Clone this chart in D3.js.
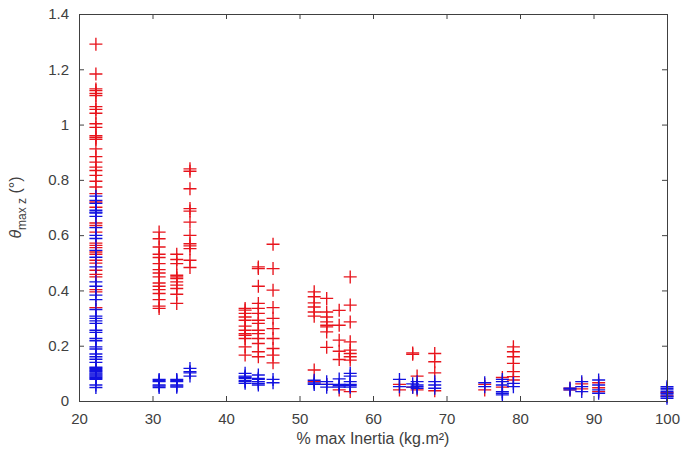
<!DOCTYPE html>
<html lang="en">
<head>
<meta charset="UTF-8">
<title>theta max z vs % max inertia</title>
<script src="https://d3js.org/d3.v7.min.js"></script>
<style>
    body { margin: 0; background: #fff; }
    svg text { font-family: "Liberation Sans", Arial, sans-serif; fill: #404040; }
</style>
</head>
<body>
<script>
// x position (% max inertia) of each group of trials
const inertia = [22.3, 30.9, 33.3, 35.1, 42.6, 44.4, 46.4, 52.0, 53.7, 55.4, 56.9,
                 63.6, 65.4, 66.0, 68.4, 75.2, 77.6, 79.1, 86.8, 88.4, 90.7, 100];

// red series, one list per group
const redTheta = [
    [1.291, 1.183, 1.129, 1.123, 1.113, 1.105, 1.065, 1.055, 1.041, 1.003, 0.99, 0.96, 0.954, 0.947,
     0.912, 0.884, 0.864, 0.846, 0.834, 0.816, 0.795, 0.774, 0.75, 0.72, 0.701, 0.644, 0.635, 0.611,
     0.571, 0.563, 0.555, 0.539, 0.531, 0.509, 0.499, 0.473, 0.458, 0.449, 0.403, 0.395, 0.338],
    [0.611, 0.587, 0.557, 0.531, 0.519, 0.497, 0.475, 0.463, 0.449, 0.427, 0.415, 0.403, 0.389, 0.367, 0.343, 0.335],
    [0.531, 0.512, 0.497, 0.455, 0.449, 0.443, 0.431, 0.419, 0.407, 0.386, 0.353],
    [0.840, 0.831, 0.768, 0.696, 0.687, 0.647, 0.599, 0.569, 0.561, 0.551, 0.509, 0.483],
    [0.335, 0.329, 0.317, 0.304, 0.292, 0.271, 0.256, 0.244, 0.238, 0.226, 0.196, 0.166],
    [0.485, 0.479, 0.415, 0.353, 0.335, 0.317, 0.292, 0.281, 0.256, 0.244, 0.226, 0.208, 0.178, 0.160],
    [0.567, 0.479, 0.401, 0.338, 0.299, 0.262, 0.226, 0.190, 0.166, 0.138],
    [0.395, 0.377, 0.355, 0.340, 0.322, 0.307, 0.112, 0.07],
    [0.371, 0.322, 0.304, 0.286, 0.274, 0.268, 0.250, 0.194, 0.06],
    [0.328, 0.274, 0.22, 0.18, 0.15, 0.04],
    [0.449, 0.347, 0.286, 0.214, 0.184, 0.172, 0.160, 0.148, 0.034],
    [0.060, 0.040],
    [0.174, 0.169, 0.05],
    [0.090, 0.040],
    [0.172, 0.142, 0.102, 0.037],
    [0.060, 0.040],
    [0.085, 0.05],
    [0.196, 0.178, 0.160, 0.136, 0.106, 0.088, 0.076],
    [0.046, 0.040],
    [0.062, 0.044],
    [0.066, 0.048, 0.034],
    [0.030, 0.018]
];

// blue series, one list per group
const blueTheta = [
    [0.741, 0.726, 0.715, 0.69, 0.683, 0.68, 0.668, 0.627, 0.599, 0.588, 0.545, 0.52, 0.485, 0.431,
     0.415, 0.383, 0.367, 0.331, 0.307, 0.299, 0.29, 0.281, 0.256, 0.248, 0.226, 0.218, 0.196, 0.188,
     0.17, 0.16, 0.151, 0.14, 0.122, 0.118, 0.114, 0.11, 0.106, 0.102, 0.098, 0.094, 0.09, 0.086,
     0.082, 0.078, 0.058, 0.049],
    [0.078, 0.074, 0.070, 0.058, 0.054, 0.049],
    [0.078, 0.074, 0.070, 0.058, 0.054, 0.050],
    [0.118, 0.106, 0.102, 0.090],
    [0.100, 0.090, 0.086, 0.082, 0.074, 0.070, 0.064],
    [0.094, 0.082, 0.078, 0.070, 0.064, 0.058],
    [0.078, 0.066],
    [0.075, 0.065, 0.060],
    [0.070, 0.060, 0.050],
    [0.080, 0.060, 0.055, 0.050],
    [0.100, 0.090, 0.070, 0.060, 0.056, 0.050],
    [0.078, 0.052],
    [0.062, 0.050],
    [0.070, 0.058, 0.052, 0.046],
    [0.070, 0.058, 0.046],
    [0.066, 0.052],
    [0.078, 0.070, 0.058, 0.034, 0.028, 0.022],
    [0.064, 0.052],
    [0.046, 0.040],
    [0.070, 0.052, 0.034],
    [0.076, 0.058, 0.040, 0.028],
    [0.052, 0.046, 0.040, 0.034, 0.028, 0.022, 0.016, 0.010]
];

const xTicks = [20, 30, 40, 50, 60, 70, 80, 90, 100];
const yTicks = [0, 0.2, 0.4, 0.6, 0.8, 1, 1.2, 1.4];

const width = 683, height = 453;
const margin = {top: 14, right: 16, bottom: 52, left: 79};

const svg = d3.select("body").append("svg")
    .attr("width", width)
    .attr("height", height);

const x = d3.scaleLinear().domain([20, 100]).range([margin.left, width - margin.right]);
const y = d3.scaleLinear().domain([0, 1.4]).range([height - margin.bottom, margin.top]);

const toPoints = (lists) => lists.flatMap((vals, i) => vals.map(v => ({x: inertia[i], y: v})));
const redPts = toPoints(redTheta);
const bluePts = toPoints(blueTheta);

const half = 6.5;
function drawPlus(sel, pts, color) {
    const g = sel.append("g").attr("stroke", color).attr("stroke-width", 1.35).attr("fill", "none");
    g.selectAll("path")
        .data(pts)
        .enter().append("path")
        .attr("d", d => {
            const cx = x(d.x), cy = y(d.y);
            return `M${cx - half},${cy}H${cx + half}M${cx},${cy - half}V${cy + half}`;
        });
}

drawPlus(svg, redPts, "#e8141c");
drawPlus(svg, bluePts, "#1212e0");

// axes: MATLAB style box with inward ticks
const axisColor = "#404040";
const axBottom = svg.append("g").attr("transform", `translate(0,${y(0)})`)
    .call(d3.axisBottom(x).tickValues(xTicks).tickSizeInner(-5).tickSizeOuter(0).tickPadding(12));
const axTop = svg.append("g").attr("transform", `translate(0,${y(1.4)})`)
    .call(d3.axisTop(x).tickValues(xTicks).tickSizeInner(-5).tickSizeOuter(0).tickFormat(""));
const axLeft = svg.append("g").attr("transform", `translate(${x(20)},0)`)
    .call(d3.axisLeft(y).tickValues(yTicks).tickSizeInner(-5).tickSizeOuter(0).tickPadding(10)
        .tickFormat(d => d3.format("~g")(d)));
const axRight = svg.append("g").attr("transform", `translate(${x(100)},0)`)
    .call(d3.axisRight(y).tickValues(yTicks).tickSizeInner(-5).tickSizeOuter(0).tickFormat(""));

[axBottom, axTop, axLeft, axRight].forEach(a => {
    a.select(".domain").attr("stroke", axisColor).attr("stroke-width", 1);
    a.selectAll(".tick line").attr("stroke", axisColor);
    a.selectAll("text").attr("font-size", 15).attr("fill", axisColor)
        .style("font-family", "'Liberation Sans', Arial, sans-serif");
});

svg.append("text")
    .attr("x", (x(20) + x(100)) / 2)
    .attr("y", 444)
    .attr("text-anchor", "middle")
    .attr("font-size", 16)
    .text("% max Inertia (kg.m²)");

const ylab = svg.append("text")
    .attr("transform", `translate(21,${y(0.7)}) rotate(-90)`)
    .attr("text-anchor", "middle")
    .attr("font-size", 16);
ylab.append("tspan").attr("font-style", "italic").text("θ");
ylab.append("tspan").attr("font-size", 12).attr("dy", 5).text("max z");
ylab.append("tspan").attr("dy", -5).text(" (°)");
</script>
</body>
</html>
